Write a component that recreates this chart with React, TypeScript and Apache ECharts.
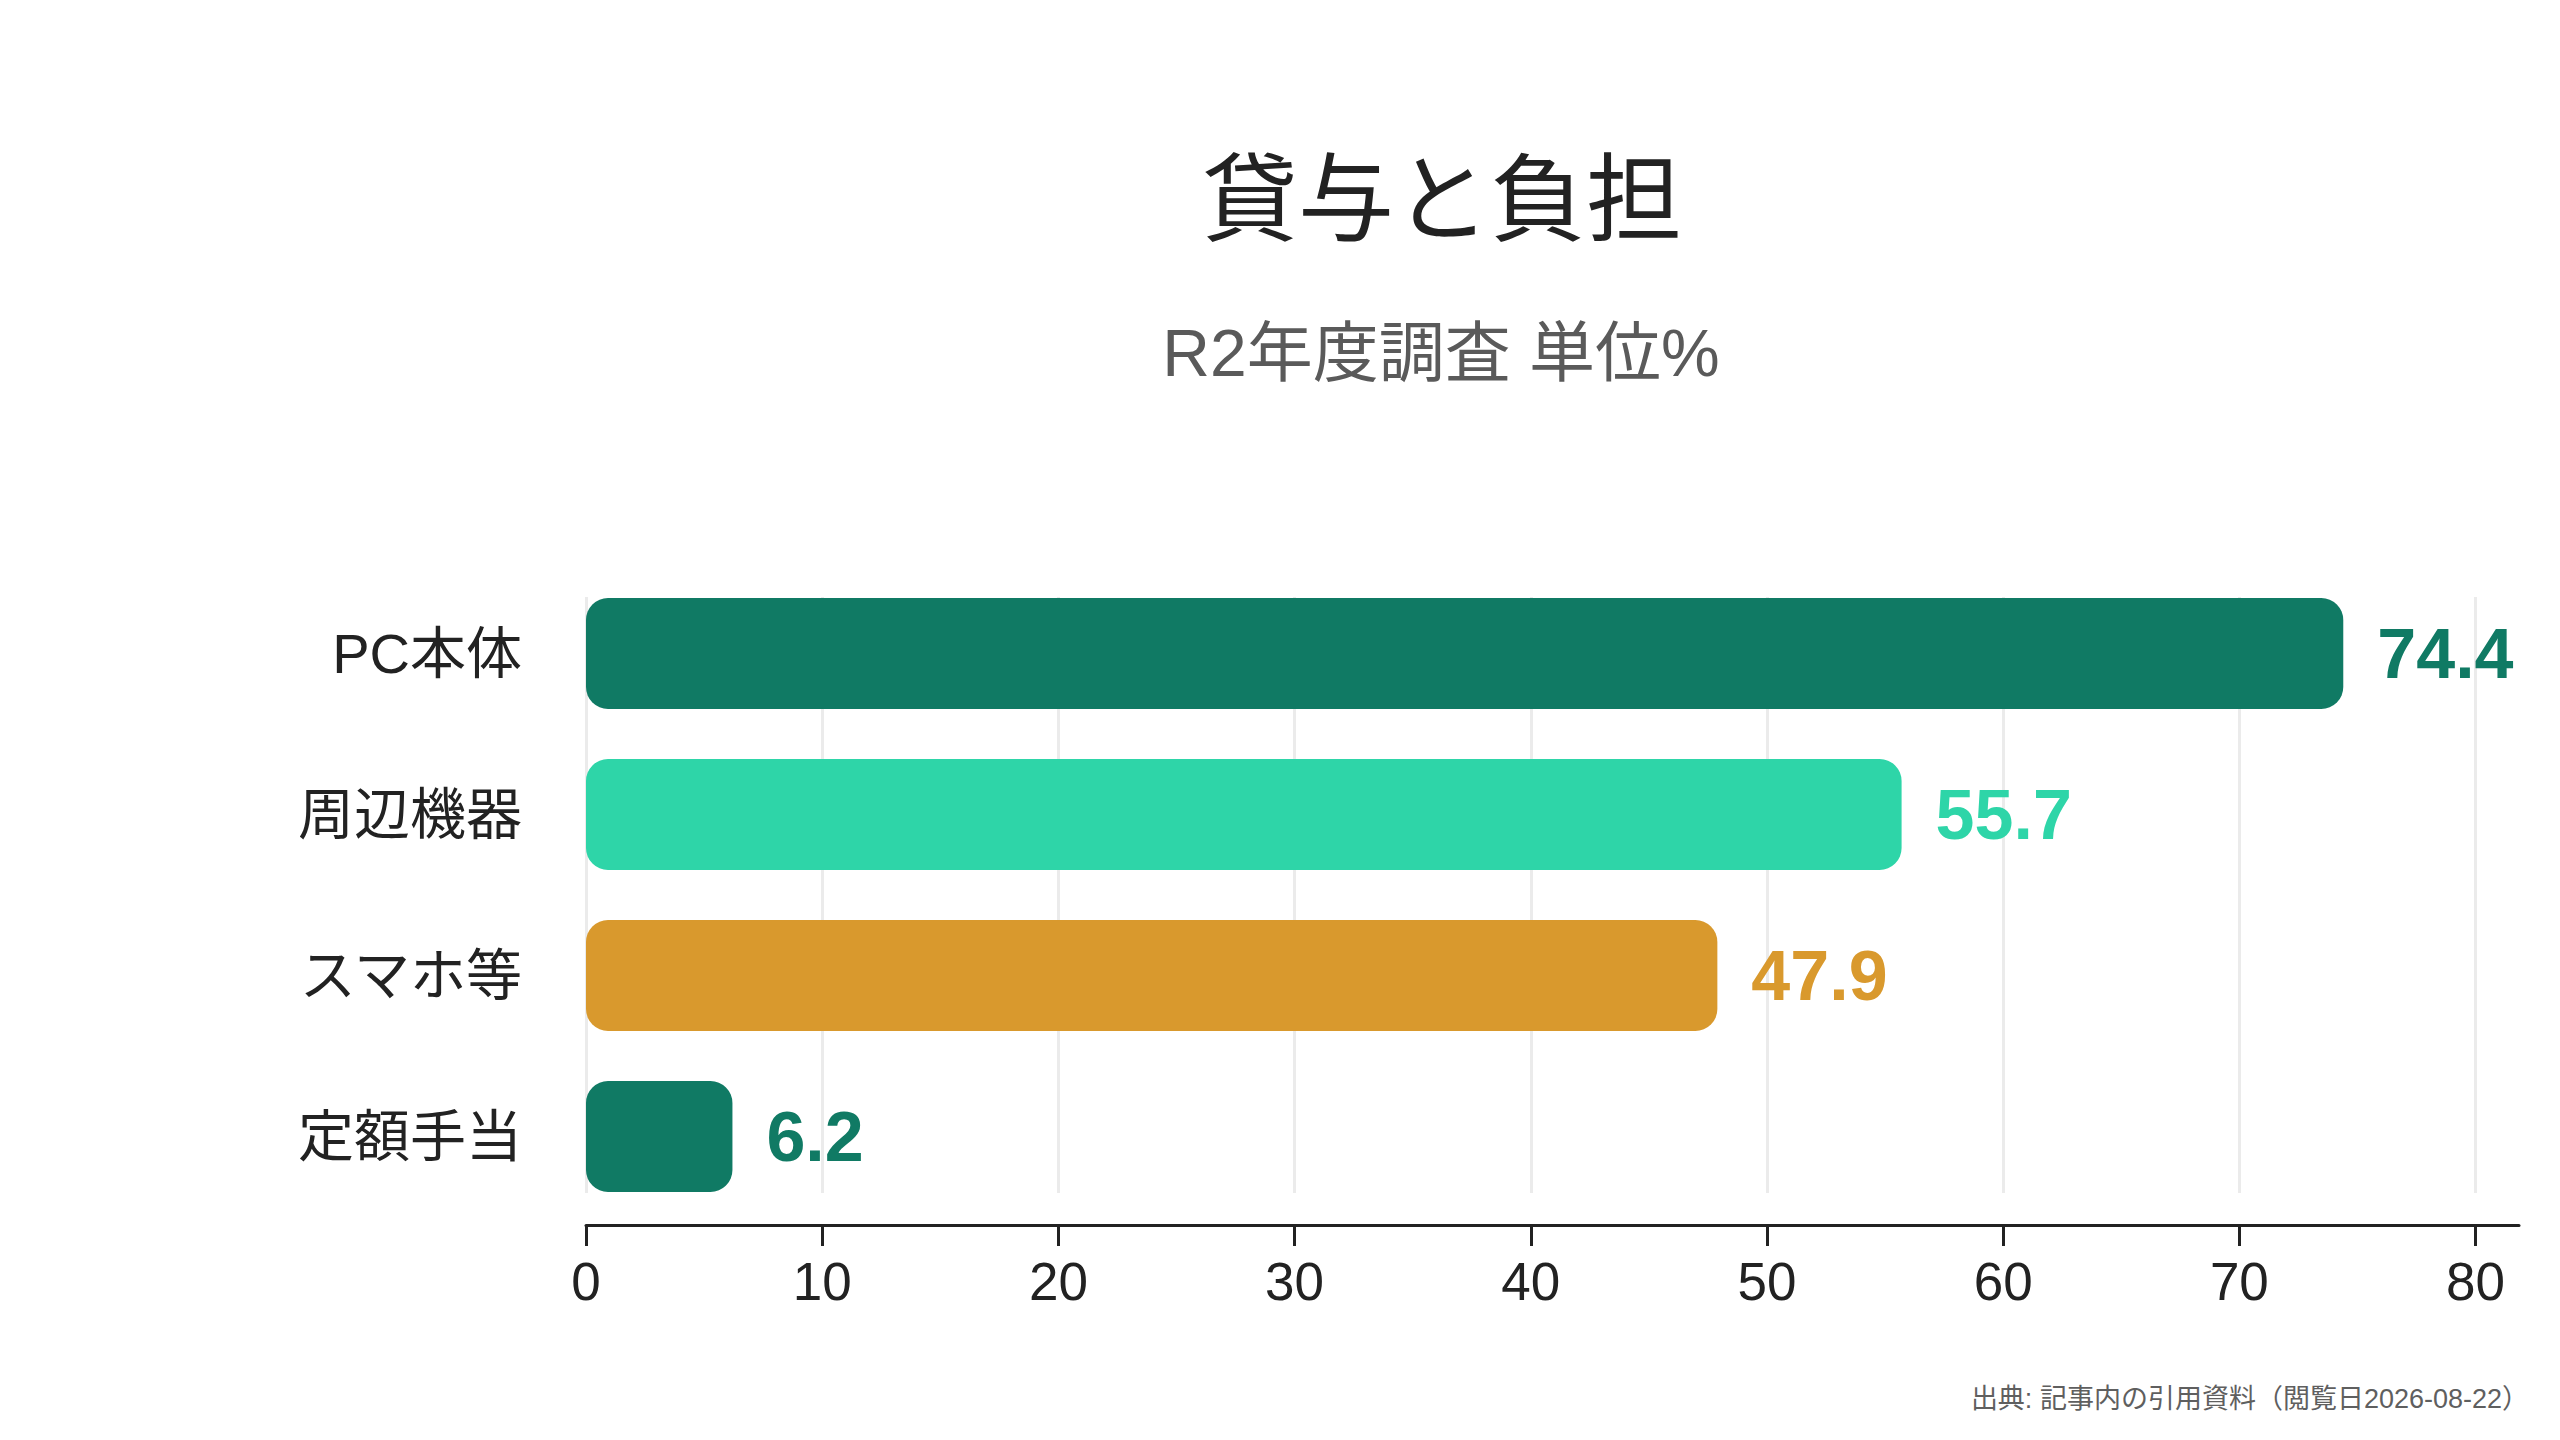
import React, { useEffect, useRef } from "react";
import * as echarts from "echarts";

const categories = ["PC本体", "周辺機器", "スマホ等", "定額手当"];
const values = [74.4, 55.7, 47.9, 6.2];
const barColors = ["#107a64", "#2ed5a8", "#d9992d", "#107a64"];
const xTicks = [0, 10, 20, 30, 40, 50, 60, 70, 80];
const titleText = "貸与と負担";
const subtitleText = "R2年度調査 単位%";
const sourceText = "出典: 記事内の引用資料（閲覧日2026-08-22）";

const FONT = '"Liberation Sans", "Noto Sans CJK JP", sans-serif';

export default function App() {
  const ref = useRef<HTMLDivElement>(null);
  useEffect(() => {
    document.body.style.margin = "0";
    if (!ref.current) return;
    const chart = echarts.init(ref.current, null, { renderer: "svg" });
    const xMax = Math.max(...values) * 1.1;
    const gridLeft = 586;
    const gridWidth = 1933;
    const gridLinesWidth = (gridWidth * xTicks[xTicks.length - 1]) / xMax;
    chart.setOption({
      animation: false,
      backgroundColor: "#ffffff",
      textStyle: { fontFamily: FONT },
      grid: [
        { left: gridLeft, top: 573, width: gridWidth, height: 644 },
        { left: gridLeft, top: 597, width: gridLinesWidth, height: 596 },
      ],
      xAxis: [
        {
          type: "value",
          gridIndex: 0,
          min: 0,
          max: xMax,
          interval: 10,
          offset: 8,
          axisLine: { show: true, lineStyle: { color: "#222222", width: 3 } },
          axisTick: {
            show: true,
            length: 21,
            customValues: xTicks,
            lineStyle: { color: "#222222", width: 3 },
          },
          axisLabel: {
            customValues: xTicks,
            fontSize: 53,
            color: "#222222",
            margin: 30,
            fontFamily: FONT,
          },
          splitLine: { show: false },
        },
        {
          type: "value",
          gridIndex: 1,
          min: 0,
          max: xTicks[xTicks.length - 1],
          interval: 10,
          axisLine: { show: false },
          axisTick: { show: false },
          axisLabel: { show: false },
          splitLine: { show: true, lineStyle: { color: "#ebebeb", width: 3 } },
        },
      ],
      yAxis: [
        {
          type: "category",
          gridIndex: 0,
          data: categories,
          inverse: true,
          axisLine: { show: false },
          axisTick: { show: false },
          splitLine: { show: false },
          axisLabel: {
            fontSize: 56,
            color: "#222222",
            margin: 64,
            fontFamily: FONT,
          },
        },
        {
          type: "category",
          gridIndex: 1,
          data: categories,
          inverse: true,
          show: false,
        },
      ],
      series: [
        {
          type: "bar",
          xAxisIndex: 0,
          yAxisIndex: 0,
          barWidth: 111,
          data: values.map((v, i) => ({
            value: v,
            itemStyle: { color: barColors[i], borderRadius: 22 },
            label: { color: barColors[i] },
          })),
          label: {
            show: true,
            position: "right",
            distance: 34,
            fontSize: 70,
            fontWeight: "bold",
            fontFamily: FONT,
          },
          z: 3,
        },
      ],
      graphic: [
        {
          type: "text",
          x: 1442,
          y: 199,
          style: {
            text: titleText,
            fontSize: 96,
            fontFamily: FONT,
            fill: "#222222",
            textAlign: "center",
            textVerticalAlign: "middle",
          },
        },
        {
          type: "text",
          x: 1441,
          y: 353,
          style: {
            text: subtitleText,
            fontSize: 66,
            fontFamily: FONT,
            fill: "#5a5a5a",
            textAlign: "center",
            textVerticalAlign: "middle",
          },
        },
        {
          type: "text",
          x: 2529,
          y: 1399,
          style: {
            text: sourceText,
            fontSize: 27,
            fontFamily: FONT,
            fill: "#5f5f5f",
            textAlign: "right",
            textVerticalAlign: "middle",
          },
        },
      ],
    });
    return () => chart.dispose();
  }, []);
  return <div ref={ref} style={{ width: 2560, height: 1440 }} />;
}
